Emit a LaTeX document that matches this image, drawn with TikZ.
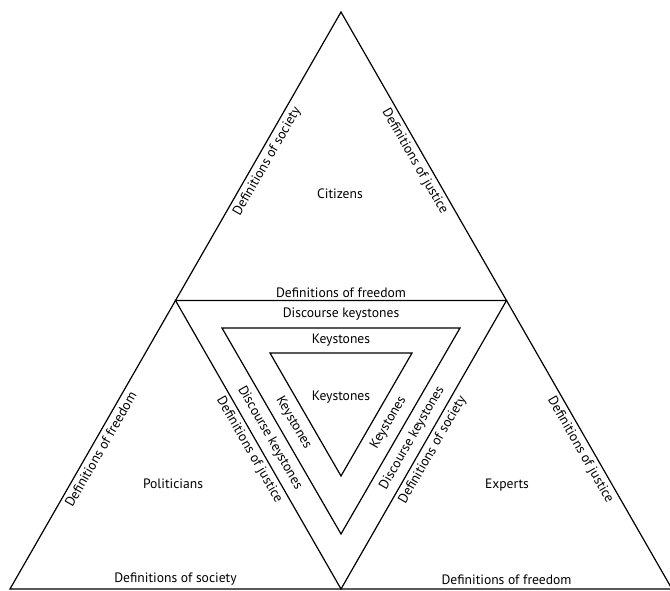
\documentclass[tikz,border=0pt]{standalone}
\usepackage{fontspec}
\setmainfont{PT Sans}
\usetikzlibrary{calc}
\tikzset{
    tri/.style={draw, line width=1.2pt, line join=miter},
    lbl/.style={font=\fontsize{13.6}{16}\selectfont, inner sep=1pt},
    edgelbl/.style={lbl, sloped, midway, below=3pt},
    bandlbl/.style={lbl, sloped, midway, anchor=center}
}

\begin{document}
\begin{tikzpicture}[x=1pt, y=-1pt]
    \useasboundingbox (0,0) rectangle (670,590);

    % outer triangle and its midpoints
    \coordinate (apex) at (341,12);
    \coordinate (lc) at (10,589);
    \coordinate (rc) at (672,589);
    \coordinate (ml) at ($(apex)!0.5!(lc)$);
    \coordinate (mr) at ($(apex)!0.5!(rc)$);
    \coordinate (mb) at ($(lc)!0.5!(rc)$);

    % middle and inner triangles
    \coordinate (m1) at (222,328);
    \coordinate (m2) at (460,328);
    \coordinate (m3) at (341,534);
    \coordinate (k1) at (270,353);
    \coordinate (k2) at (412,353);
    \coordinate (k3) at (341,476);

    % guide lines halfway across the bands
    \coordinate (g1) at ($(ml)!0.5!(m1)$);
    \coordinate (g2) at ($(mr)!0.5!(m2)$);
    \coordinate (g3) at ($(mb)!0.5!(m3)$);
    \coordinate (h1) at ($(m1)!0.5!(k1)$);
    \coordinate (h2) at ($(m2)!0.5!(k2)$);
    \coordinate (h3) at ($(m3)!0.5!(k3)$);

    % triangles
    \draw[tri] (apex) -- (rc) -- (lc) -- cycle;
    \draw[tri] (ml) -- (mr) -- (mb) -- cycle;
    \draw[tri] (m1) -- (m2) -- (m3) -- cycle;
    \draw[tri] (k1) -- (k2) -- (k3) -- cycle;

    % actors
    \node[lbl] (citizens) at (340,194) {Citizens};
    \node[lbl] (politicians) at (173,484) {Politicians};
    \node[lbl] (experts) at (507,485) {Experts};
    \node[lbl] (core) at (341,397) {Keystones};

    % outer edges
    \path (ml) -- node[edgelbl] (societyTop) {Definitions of society} (apex);
    \path (apex) -- node[edgelbl] (justiceTop) {Definitions of justice} (mr);
    \path (lc) -- node[edgelbl] (freedomLeft) {Definitions of freedom} (ml);
    \path (ml) -- node[edgelbl] (justiceLeft) {Definitions of justice} (mb);
    \path (mb) -- node[edgelbl] (societyRight) {Definitions of society} (mr);
    \path (mr) -- node[edgelbl] (justiceRight) {Definitions of justice} (rc);
    \path (ml) -- node[lbl, above=2pt] (freedomTop) {Definitions of freedom} (mr);
    \path (lc) -- node[lbl, above=3pt] (societyBot) {Definitions of society} (mb);
    \path (mb) -- node[lbl, above=3pt] (freedomBot) {Definitions of freedom} (rc);

    % bands
    \path (g1) -- node[bandlbl] (dkTop) {Discourse keystones} (g2);
    \path (g1) -- node[bandlbl] (dkLeft) {Discourse keystones} (g3);
    \path (g3) -- node[bandlbl] (dkRight) {Discourse keystones} (g2);
    \path (h1) -- node[bandlbl] (ksTop) {Keystones} (h2);
    \path (h1) -- node[bandlbl] (ksLeft) {Keystones} (h3);
    \path (h3) -- node[bandlbl] (ksRight) {Keystones} (h2);
\end{tikzpicture}
\end{document}
